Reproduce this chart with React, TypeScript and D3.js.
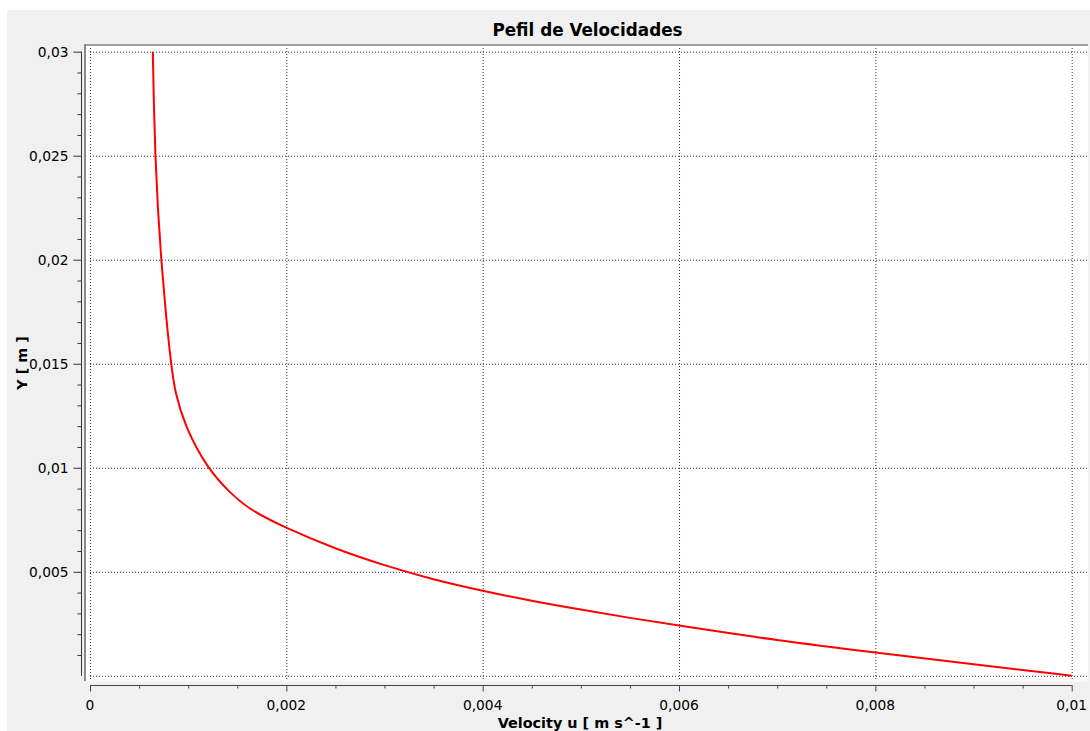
import React from 'react';
import * as d3 from 'd3';

// --- Data (velocity u in m/s, height Y in m) ---
const velocityU = [
  0.00064, 0.00065, 0.000665, 0.00069, 0.000725, 0.00077, 0.000825, 0.000866, 0.000968,
  0.00119, 0.00143, 0.00163, 0.002, 0.0025, 0.003, 0.0035, 0.004, 0.0045,
  0.005, 0.0055, 0.006, 0.007, 0.008, 0.009, 0.01,
];
const positionY = [
  0.03, 0.0275, 0.025, 0.0225, 0.02, 0.0175, 0.015, 0.0136, 0.012,
  0.01, 0.00877, 0.00797, 0.00709, 0.0061, 0.0053, 0.00462, 0.00408, 0.0036,
  0.00318, 0.00278, 0.00241, 0.0017, 0.00112, 0.00056, 0.0,
];

const xTicks = [0, 0.002, 0.004, 0.006, 0.008, 0.01];
const xTickLabels = ['0', '0,002', '0,004', '0,006', '0,008', '0,01'];
const yTicks = [0.005, 0.01, 0.015, 0.02, 0.025, 0.03];
const yTickLabels = ['0,005', '0,01', '0,015', '0,02', '0,025', '0,03'];
const yGrid = [0, 0.005, 0.01, 0.015, 0.02, 0.025, 0.03];

const title = 'Pefil de Velocidades';
const xTitle = 'Velocity u [ m s^-1 ]';
const yTitle = 'Y [ m ]';

const W = 1090;
const H = 731;
const FONT = '"DejaVu Sans", Verdana, sans-serif';

export default function App() {
  const x = d3.scaleLinear().domain([0, 0.01]).range([90, 1071.7]);
  const y = d3.scaleLinear().domain([0, 0.03]).range([675.8, 51.7]);

  const points: [number, number][] = velocityU.map((u, i) => [u, positionY[i]]);
  // basis spline smooths the hand-read points into one even curve
  const line = d3
    .line<[number, number]>()
    .x(d => x(d[0]))
    .y(d => y(d[1]))
    .curve(d3.curveBasis);

  // minor ticks
  const xMinor = d3.range(0, 21).map(i => i * 0.0005).filter((_, i) => i % 4 !== 0);
  const yMinor = d3.range(1, 30).map(i => i * 0.001).filter((_, i) => (i + 1) % 5 !== 0);

  const plotLeft = 86, plotTop = 46, plotRight = 1088, plotBottom = 679;
  const axisX = 81.5; // y axis line
  const axisY = 685; // x axis line

  return (
    <svg
      width={W}
      height={H}
      style={{ position: 'absolute', left: 0, top: 0, display: 'block' }}
      fontFamily={FONT}
    >
      <rect x={0} y={0} width={W} height={H} fill="#ffffff" />
      <rect x={7} y={10} width={W - 7} height={H - 10} fill="#f0f0f0" />

      {/* plot panel */}
      <rect x={plotLeft} y={plotTop} width={plotRight - plotLeft} height={plotBottom - plotTop} fill="#ffffff" />
      <rect x={plotLeft} y={plotBottom} width={plotRight - plotLeft} height={3} fill="#f8f8f8" />
      <line x1={84} x2={plotRight} y1={45} y2={45} stroke="#a0a0a0" strokeWidth={2} />
      <line x1={85} x2={85} y1={44} y2={681} stroke="#8a8a8a" strokeWidth={2} />

      {/* grid */}
      <g stroke="#333" strokeWidth={1} strokeDasharray="1,2">
        {xTicks.map(t => (
          <line key={'gx' + t} x1={x(t) + 0.5} x2={x(t) + 0.5} y1={plotTop + 2} y2={plotBottom} />
        ))}
        {yGrid.map(t => (
          <line key={'gy' + t} x1={x(0)} x2={plotRight} y1={y(t) + 0.5} y2={y(t) + 0.5} />
        ))}
      </g>

      {/* curve */}
      <path d={line(points) || ''} fill="none" stroke="#ff0000" strokeWidth={2} strokeLinejoin="round" />

      {/* y axis */}
      <g stroke="#333" strokeWidth={1}>
        <line x1={axisX} x2={axisX} y1={y(0.03)} y2={y(0)} />
        {yTicks.map(t => (
          <line key={'yt' + t} x1={axisX - 8} x2={axisX} y1={y(t) + 0.5} y2={y(t) + 0.5} />
        ))}
        {yMinor.map(t => (
          <line key={'ym' + t} x1={axisX - 4} x2={axisX} y1={y(t) + 0.5} y2={y(t) + 0.5} />
        ))}
      </g>
      <g fontSize={13.8} fill="#000" textAnchor="end">
        {yTicks.map((t, i) => (
          <text key={'yl' + t} x={68.5} y={y(t)} dominantBaseline="central">
            {yTickLabels[i]}
          </text>
        ))}
      </g>

      {/* x axis */}
      <g stroke="#444" strokeWidth={1}>
        <line x1={x(0)} x2={x(0.01)} y1={axisY + 0.5} y2={axisY + 0.5} />
        {xTicks.map(t => (
          <line key={'xt' + t} x1={x(t) + 0.5} x2={x(t) + 0.5} y1={axisY} y2={axisY + 6.5} />
        ))}
        {xMinor.map(t => (
          <line key={'xm' + t} x1={x(t) + 0.5} x2={x(t) + 0.5} y1={axisY} y2={axisY + 3.5} />
        ))}
      </g>
      <g fontSize={13.8} fill="#000" textAnchor="middle">
        {xTicks.map((t, i) => (
          <text key={'xl' + t} x={x(t)} y={710}>
            {xTickLabels[i]}
          </text>
        ))}
      </g>

      {/* titles */}
      <text x={587.5} y={36} textAnchor="middle" fontSize={16.8} fontWeight="bold" fill="#000">
        {title}
      </text>
      <text x={580} y={728} textAnchor="middle" fontSize={14.4} fontWeight="bold" fill="#000">
        {xTitle}
      </text>
      <text
        transform={`translate(27,363) rotate(-90)`}
        textAnchor="middle"
        fontSize={14.4}
        fontWeight="bold"
        fill="#000"
      >
        {yTitle}
      </text>
    </svg>
  );
}
